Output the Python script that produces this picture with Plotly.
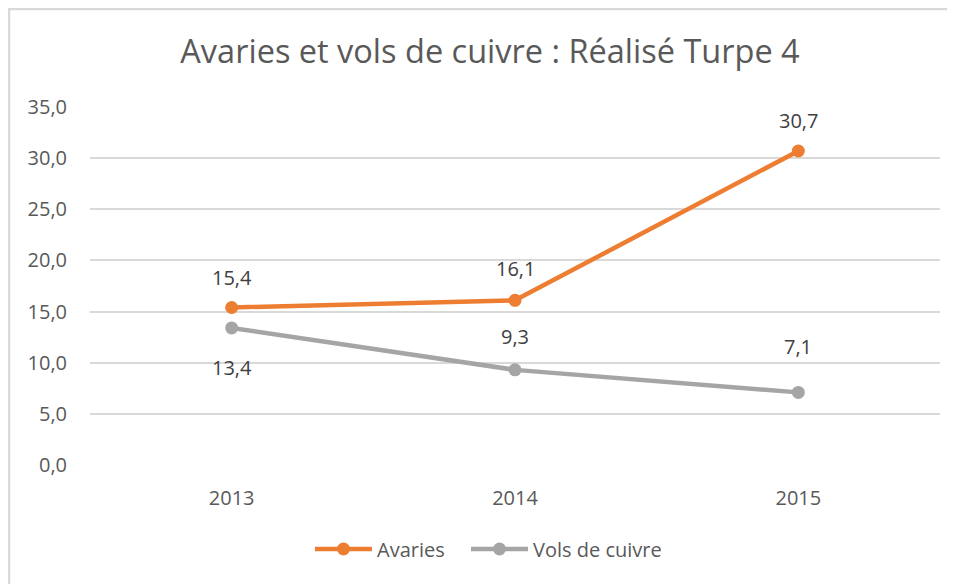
import plotly.graph_objects as go

# Data
years = ['2013', '2014', '2015']
avaries = [15.4, 16.1, 30.7]
vols_cuivre = [13.4, 9.3, 7.1]

# label offsets (px) for the data labels, like the Excel layout
avaries_shift = [30, 32, 30]
vols_shift = [-40, 33, 46]

ORANGE = '#ED7D31'
GREY = '#A5A5A5'
FONT = 'Open Sans'

fig = go.Figure()

fig.add_trace(go.Scatter(
    x=years, y=avaries, mode='lines+markers', name='Avaries',
    line=dict(color=ORANGE, width=4.5),
    marker=dict(color=ORANGE, size=13),
    legend='legend'
))
fig.add_trace(go.Scatter(
    x=years, y=vols_cuivre, mode='lines+markers', name='Vols de cuivre',
    line=dict(color=GREY, width=4.5),
    marker=dict(color=GREY, size=13),
    legend='legend2'
))

# data labels (x as category index, string years would be read as numbers)
for series, shifts in [(avaries, avaries_shift), (vols_cuivre, vols_shift)]:
    for i, (y, s) in enumerate(zip(series, shifts)):
        fig.add_annotation(
            x=i, y=y, text=f"{y:.1f}".replace('.', ','),
            showarrow=False, yshift=s,
            font=dict(family=FONT, size=20, color='#404040')
        )

# light frame around the chart (cut off at right/bottom like the image)
fig.add_shape(type='rect', xref='paper', yref='paper',
              x0=-81 / 850, x1=1.5, y0=-0.5, y1=1 + 98 / 358,
              line=dict(color='#D9D9D9', width=2.5), fillcolor='rgba(0,0,0,0)')

legend_style = dict(orientation='h', y=-84 / 358, yanchor='middle', xanchor='left',
                    itemwidth=57, font=dict(family=FONT, size=20, color='#595959'))

fig.update_layout(
    width=955, height=584,
    margin=dict(l=82, r=23, t=99, b=127),
    paper_bgcolor='white', plot_bgcolor='white',
    separators=', ',
    title=dict(text='Avaries et vols de cuivre : Réalisé Turpe 4',
               x=482 / 955, xanchor='center', y=1 - 44 / 584, yanchor='middle',
               font=dict(family=FONT, size=32.5, color='#595959')),
    font=dict(family=FONT, color='#595959'),
    showlegend=True,
    legend=dict(x=220 / 850, **legend_style),
    legend2=dict(x=376 / 850, **legend_style),
)

fig.update_xaxes(
    type='category', range=[-0.5, 2.5],
    showgrid=False, showline=False, ticks='',
    tickfont=dict(family=FONT, size=20, color='#595959'),
    ticklabelstandoff=19
)
fig.update_yaxes(
    range=[0, 35], dtick=5, tickformat='.1f',
    showgrid=True, gridcolor='#D9D9D9', gridwidth=1.5,
    zeroline=False, showline=False, ticks='',
    tickfont=dict(family=FONT, size=20, color='#595959'),
    ticklabelstandoff=22
)

fig.write_html("out.html")
